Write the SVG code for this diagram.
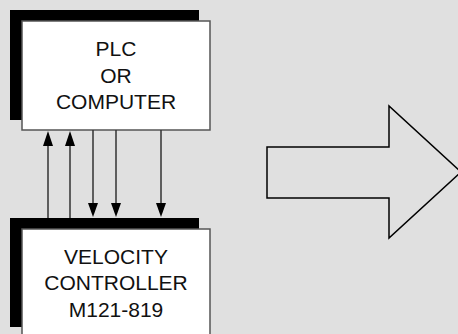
<svg xmlns="http://www.w3.org/2000/svg" width="458" height="334" viewBox="0 0 458 334">
<defs>
<style>
.shadow{fill:#000}
.box{fill:#fff;stroke:#555;stroke-width:1.5}
.lbl{font-family:"Liberation Sans",Arial,sans-serif;font-size:21px;fill:#111;text-anchor:middle}
.ln{stroke:#333;stroke-width:1.5;fill:none}
.hd{fill:#000}
</style>
</defs>
<rect x="0" y="0" width="458" height="334" fill="#e0e0e0"/>
<g id="plc">
<rect class="shadow" x="10" y="10" width="189" height="110"/>
<rect class="box" x="22" y="21" width="188" height="109"/>
<text class="lbl" x="116" y="56">PLC</text>
<text class="lbl" x="116" y="83">OR</text>
<text class="lbl" x="116" y="109">COMPUTER</text>
</g>
<g id="velocity-controller">
<rect class="shadow" x="10" y="218" width="189" height="109"/>
<rect class="box" x="22" y="229" width="188" height="112"/>
<text class="lbl" x="116" y="264">VELOCITY</text>
<text class="lbl" x="116" y="290">CONTROLLER</text>
<text class="lbl" x="116" y="317">M121-819</text>
</g>
<g id="connectors">
<line class="ln" x1="48" y1="218" x2="48" y2="144"/>
<polygon class="hd" points="48,131 43,146 53,146"/>
<line class="ln" x1="70" y1="218" x2="70" y2="144"/>
<polygon class="hd" points="70,131 65,146 75,146"/>
<line class="ln" x1="93" y1="130" x2="93" y2="205"/>
<polygon class="hd" points="93,217 88,203 98,203"/>
<line class="ln" x1="116" y1="130" x2="116" y2="205"/>
<polygon class="hd" points="116,217 111,203 121,203"/>
<line class="ln" x1="161" y1="130" x2="161" y2="205"/>
<polygon class="hd" points="161,217 156,203 166,203"/>
</g>
<g id="big-arrow">
<polygon points="267,147 389,147 389,106 461,172 389,238 389,198 267,198" fill="none" stroke="#000" stroke-width="1.5"/>
</g>
</svg>
